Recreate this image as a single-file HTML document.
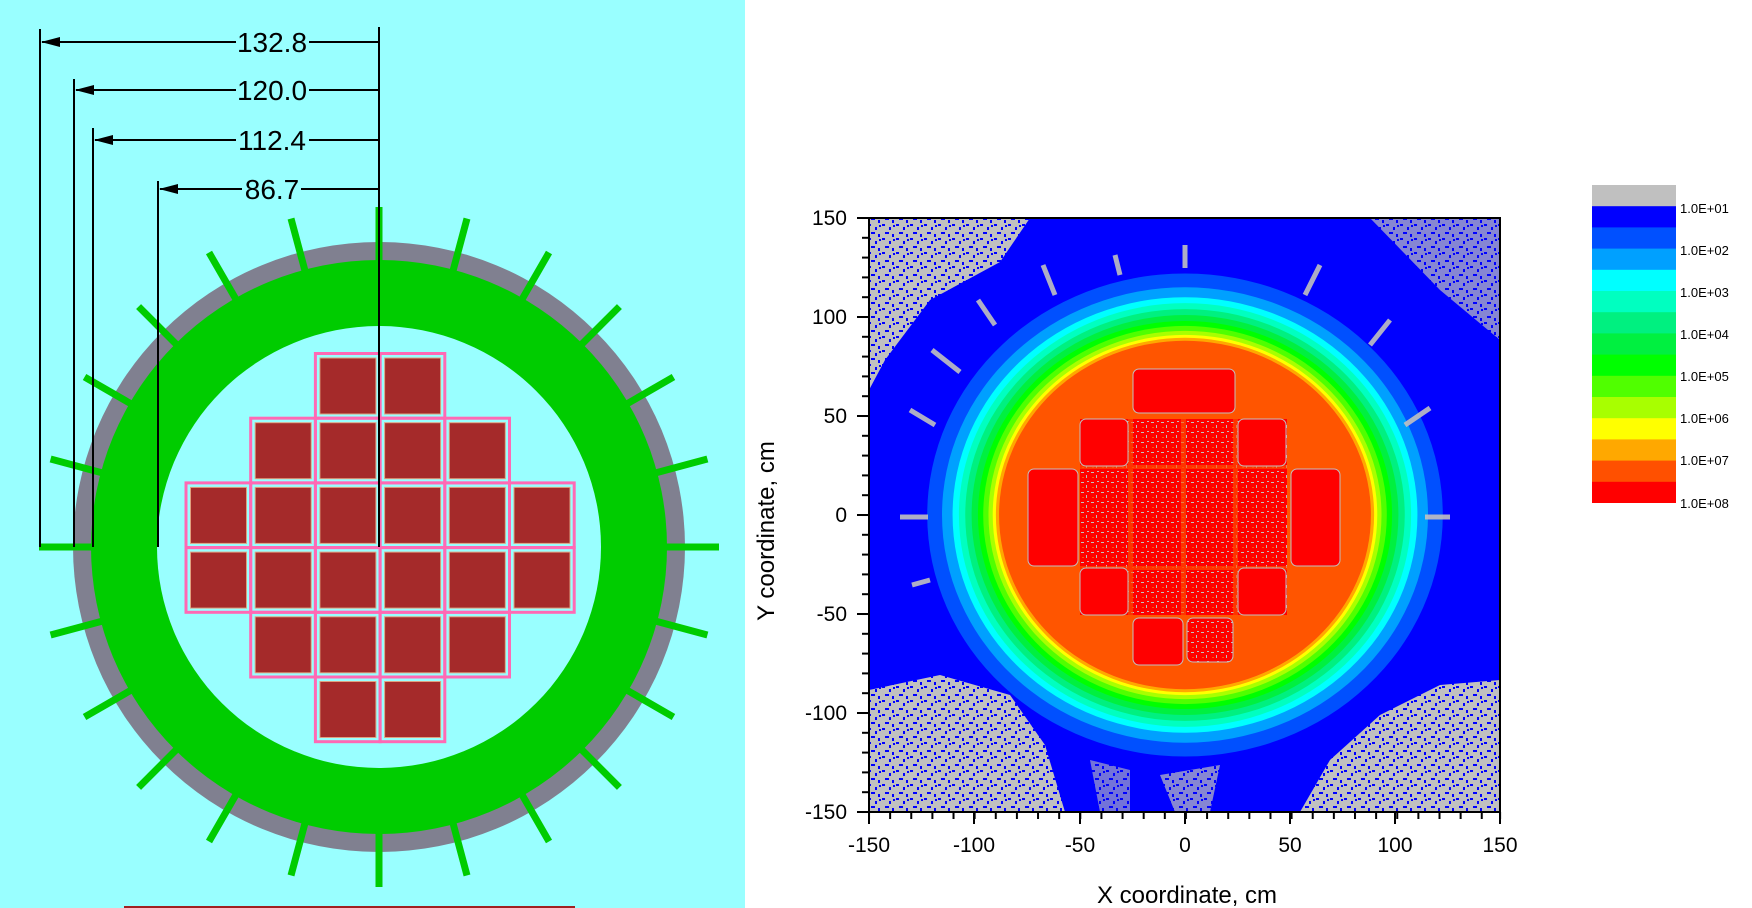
<!DOCTYPE html>
<html><head><meta charset="utf-8"><style>
html,body{margin:0;padding:0;background:#fff;}
svg{display:block;font-family:"Liberation Sans",sans-serif;}
</style></head><body>
<svg width="1752" height="908" viewBox="0 0 1752 908" xmlns="http://www.w3.org/2000/svg">
<defs>
<pattern id="spk" width="14" height="14" patternUnits="userSpaceOnUse">
<rect width="14" height="14" fill="#c0c0c0"/>
<rect x="0" y="0" width="3" height="2" fill="#0000ff"/>
<rect x="7" y="3" width="2" height="3" fill="#0000ff"/>
<rect x="3" y="8" width="4" height="2" fill="#0000ff"/>
<rect x="10" y="10" width="2" height="3" fill="#0000ff"/>
<rect x="11" y="1" width="2" height="2" fill="#0000ff"/>
</pattern>
<pattern id="rsp" width="10" height="10" patternUnits="userSpaceOnUse">
<rect width="10" height="10" fill="#ff0000"/>
<rect x="1" y="2" width="3" height="1" fill="#c0c0c0"/>
<rect x="6" y="5" width="1" height="3" fill="#c0c0c0"/>
<rect x="2" y="7" width="2" height="1" fill="#ff5500"/>
<rect x="7" y="1" width="2" height="1" fill="#c0c0c0"/>
</pattern>
<pattern id="ytk" x="0" y="217" width="7" height="19.8" patternUnits="userSpaceOnUse">
<rect x="0" y="0" width="7" height="2" fill="#000"/>
</pattern>
<pattern id="xtk" x="868" y="0" width="21.13" height="7" patternUnits="userSpaceOnUse">
<rect x="0" y="0" width="2" height="7" fill="#000"/>
</pattern>
<clipPath id="pc"><rect x="869" y="218" width="631" height="594"/></clipPath>
</defs>
<!-- LEFT PANEL -->
<rect x="0" y="0" width="745" height="908" fill="#99ffff"/>
<line x1="124" y1="907" x2="575" y2="907" stroke="#a02020" stroke-width="2"/>
<ellipse cx="379" cy="547" rx="306" ry="305" fill="#808090"/>
<ellipse cx="379" cy="547" rx="288" ry="287" fill="#00cc00"/>
<ellipse cx="379" cy="547" rx="222" ry="221" fill="#99ffff"/>
<g stroke="#00cc00" stroke-width="7">
<line x1="665" y1="547" x2="719" y2="547"/>
<line x1="665" y1="547" x2="719" y2="547" transform="rotate(15 379 547)"/>
<line x1="665" y1="547" x2="719" y2="547" transform="rotate(30 379 547)"/>
<line x1="665" y1="547" x2="719" y2="547" transform="rotate(45 379 547)"/>
<line x1="665" y1="547" x2="719" y2="547" transform="rotate(60 379 547)"/>
<line x1="665" y1="547" x2="719" y2="547" transform="rotate(75 379 547)"/>
<line x1="665" y1="547" x2="719" y2="547" transform="rotate(90 379 547)"/>
<line x1="665" y1="547" x2="719" y2="547" transform="rotate(105 379 547)"/>
<line x1="665" y1="547" x2="719" y2="547" transform="rotate(120 379 547)"/>
<line x1="665" y1="547" x2="719" y2="547" transform="rotate(135 379 547)"/>
<line x1="665" y1="547" x2="719" y2="547" transform="rotate(150 379 547)"/>
<line x1="665" y1="547" x2="719" y2="547" transform="rotate(165 379 547)"/>
<line x1="665" y1="547" x2="719" y2="547" transform="rotate(180 379 547)"/>
<line x1="665" y1="547" x2="719" y2="547" transform="rotate(195 379 547)"/>
<line x1="665" y1="547" x2="719" y2="547" transform="rotate(210 379 547)"/>
<line x1="665" y1="547" x2="719" y2="547" transform="rotate(225 379 547)"/>
<line x1="665" y1="547" x2="719" y2="547" transform="rotate(240 379 547)"/>
<line x1="665" y1="547" x2="719" y2="547" transform="rotate(255 379 547)"/>
<line x1="665" y1="547" x2="719" y2="547" transform="rotate(270 379 547)"/>
<line x1="665" y1="547" x2="719" y2="547" transform="rotate(285 379 547)"/>
<line x1="665" y1="547" x2="719" y2="547" transform="rotate(300 379 547)"/>
<line x1="665" y1="547" x2="719" y2="547" transform="rotate(315 379 547)"/>
<line x1="665" y1="547" x2="719" y2="547" transform="rotate(330 379 547)"/>
<line x1="665" y1="547" x2="719" y2="547" transform="rotate(345 379 547)"/>
</g>
<!-- assemblies: pink cells -->
<g fill="none" stroke="#ff69b4" stroke-width="3">
<rect x="315.4" y="353.5" width="64.7" height="64.7"/><rect x="380.1" y="353.5" width="64.7" height="64.7"/>
<rect x="250.7" y="418.2" width="64.7" height="64.7"/><rect x="315.4" y="418.2" width="64.7" height="64.7"/><rect x="380.1" y="418.2" width="64.7" height="64.7"/><rect x="444.8" y="418.2" width="64.7" height="64.7"/>
<rect x="186" y="482.9" width="64.7" height="64.7"/><rect x="250.7" y="482.9" width="64.7" height="64.7"/><rect x="315.4" y="482.9" width="64.7" height="64.7"/><rect x="380.1" y="482.9" width="64.7" height="64.7"/><rect x="444.8" y="482.9" width="64.7" height="64.7"/><rect x="509.5" y="482.9" width="64.7" height="64.7"/>
<rect x="186" y="547.6" width="64.7" height="64.7"/><rect x="250.7" y="547.6" width="64.7" height="64.7"/><rect x="315.4" y="547.6" width="64.7" height="64.7"/><rect x="380.1" y="547.6" width="64.7" height="64.7"/><rect x="444.8" y="547.6" width="64.7" height="64.7"/><rect x="509.5" y="547.6" width="64.7" height="64.7"/>
<rect x="250.7" y="612.3" width="64.7" height="64.7"/><rect x="315.4" y="612.3" width="64.7" height="64.7"/><rect x="380.1" y="612.3" width="64.7" height="64.7"/><rect x="444.8" y="612.3" width="64.7" height="64.7"/>
<rect x="315.4" y="677" width="64.7" height="64.7"/><rect x="380.1" y="677" width="64.7" height="64.7"/>
</g>
<g fill="#a52a2a" stroke="#e0a080" stroke-width="1">
<rect x="319.9" y="358" width="56" height="56"/><rect x="384.6" y="358" width="56" height="56"/>
<rect x="255.2" y="422.7" width="56" height="56"/><rect x="319.9" y="422.7" width="56" height="56"/><rect x="384.6" y="422.7" width="56" height="56"/><rect x="449.3" y="422.7" width="56" height="56"/>
<rect x="190.5" y="487.4" width="56" height="56"/><rect x="255.2" y="487.4" width="56" height="56"/><rect x="319.9" y="487.4" width="56" height="56"/><rect x="384.6" y="487.4" width="56" height="56"/><rect x="449.3" y="487.4" width="56" height="56"/><rect x="514" y="487.4" width="56" height="56"/>
<rect x="190.5" y="552.1" width="56" height="56"/><rect x="255.2" y="552.1" width="56" height="56"/><rect x="319.9" y="552.1" width="56" height="56"/><rect x="384.6" y="552.1" width="56" height="56"/><rect x="449.3" y="552.1" width="56" height="56"/><rect x="514" y="552.1" width="56" height="56"/>
<rect x="255.2" y="616.8" width="56" height="56"/><rect x="319.9" y="616.8" width="56" height="56"/><rect x="384.6" y="616.8" width="56" height="56"/><rect x="449.3" y="616.8" width="56" height="56"/>
<rect x="319.9" y="681.5" width="56" height="56"/><rect x="384.6" y="681.5" width="56" height="56"/>
</g>
<!-- dimension lines -->
<g stroke="#000" stroke-width="2" fill="none">
<line x1="379" y1="27" x2="379" y2="547"/>
<line x1="40" y1="29" x2="40" y2="547"/>
<line x1="74" y1="79" x2="74" y2="547"/>
<line x1="93" y1="128" x2="93" y2="547"/>
<line x1="158" y1="181" x2="158" y2="547"/>
<line x1="42" y1="42" x2="236" y2="42"/><line x1="309" y1="42" x2="379" y2="42"/>
<line x1="76" y1="90" x2="236" y2="90"/><line x1="309" y1="90" x2="379" y2="90"/>
<line x1="95" y1="140" x2="236" y2="140"/><line x1="309" y1="140" x2="379" y2="140"/>
<line x1="160" y1="189" x2="242" y2="189"/><line x1="301" y1="189" x2="379" y2="189"/>
</g>
<g fill="#000">
<polygon points="41,42 60,37 60,47"/>
<polygon points="75,90 94,85 94,95"/>
<polygon points="94,140 113,135 113,145"/>
<polygon points="159,189 178,184 178,194"/>
</g>
<g font-size="28" text-anchor="middle" fill="#000">
<text x="272" y="52">132.8</text>
<text x="272" y="100">120.0</text>
<text x="272" y="150">112.4</text>
<text x="272" y="199">86.7</text>
</g>
<!-- RIGHT PANEL -->
<g clip-path="url(#pc)">
<rect x="869" y="218" width="631" height="594" fill="#0000ff"/>
<polygon points="869,218 1030,218 1000,262 930,300 885,360 869,390" fill="url(#spk)"/>
<polygon points="1370,218 1500,218 1500,340 1440,290" fill="url(#spk)" opacity="0.7"/>
<polygon points="869,690 940,675 1010,695 1045,745 1065,812 869,812" fill="url(#spk)"/>
<polygon points="1500,680 1440,685 1380,715 1330,760 1300,812 1500,812" fill="url(#spk)"/>
<polygon points="1160,775 1175,812 1210,812 1220,765" fill="url(#spk)" opacity="0.7"/>
<polygon points="1090,760 1100,812 1130,812 1130,770" fill="url(#spk)" opacity="0.6"/>
<g transform="translate(1185,515) scale(2.113,1.98)">
<circle r="122" fill="#0050ff"/>
<circle r="115" fill="#00a0ff"/>
<circle r="110" fill="#00ffff"/>
<circle r="107" fill="#00ffc0"/>
<circle r="104" fill="#00f080"/>
<circle r="101" fill="#00f040"/>
<circle r="98" fill="#00ff00"/>
<circle r="95.5" fill="#50ff00"/>
<circle r="93" fill="#a8ff00"/>
<circle r="91" fill="#ffff00"/>
<circle r="89.5" fill="#ffa800"/>
<circle r="88" fill="#ff5500"/>
</g>
<g stroke="#c0c0c0" stroke-width="5" fill="none" opacity="0.9">
<line x1="1115" y1="255" x2="1120" y2="275"/><line x1="1185" y1="245" x2="1185" y2="268"/>
<line x1="1043" y1="265" x2="1055" y2="295"/><line x1="978" y1="300" x2="995" y2="325"/>
<line x1="932" y1="350" x2="960" y2="372"/><line x1="910" y1="410" x2="935" y2="425"/>
<line x1="900" y1="517" x2="928" y2="517"/><line x1="912" y1="585" x2="930" y2="580"/>
<line x1="1320" y1="265" x2="1305" y2="295"/><line x1="1390" y1="320" x2="1370" y2="345"/>
<line x1="1430" y1="408" x2="1405" y2="425"/><line x1="1450" y1="517" x2="1425" y2="517"/>
</g>
<rect x="1133" y="369" width="102" height="44" rx="6" fill="#ff0000" stroke="#c0c0c0" stroke-width="1"/>
<rect x="1080" y="419" width="207" height="196" fill="url(#rsp)"/>
<g fill="#ff5500" opacity="0.6">
<rect x="1128" y="419" width="5" height="196"/><rect x="1181" y="419" width="5" height="196"/><rect x="1233" y="419" width="5" height="196"/>
<rect x="1080" y="465" width="207" height="4"/><rect x="1080" y="566" width="207" height="4"/>
</g>
<g fill="#ff0000" stroke="#c0c0c0" stroke-width="1">
<rect x="1080" y="419" width="48" height="47" rx="6"/>
<rect x="1238" y="419" width="48" height="47" rx="6"/>
<rect x="1028" y="469" width="50" height="97" rx="6"/>
<rect x="1291" y="469" width="49" height="97" rx="6"/>
<rect x="1080" y="568" width="48" height="47" rx="6"/>
<rect x="1238" y="568" width="48" height="47" rx="6"/>
<rect x="1133" y="618" width="50" height="47" rx="6"/>
</g>
<rect x="1187" y="618" width="46" height="44" rx="6" fill="url(#rsp)" stroke="#c0c0c0"/>
</g>
<rect x="869" y="218" width="631" height="594" fill="none" stroke="#000" stroke-width="2"/>
<!-- ticks -->
<rect x="862" y="217" width="7" height="597" fill="url(#ytk)"/>
<rect x="868" y="812" width="634" height="7" fill="url(#xtk)"/>
<g stroke="#000" stroke-width="2">
<line x1="857" y1="218" x2="869" y2="218"/><line x1="857" y1="317" x2="869" y2="317"/><line x1="857" y1="416" x2="869" y2="416"/>
<line x1="857" y1="515" x2="869" y2="515"/><line x1="857" y1="614" x2="869" y2="614"/><line x1="857" y1="713" x2="869" y2="713"/><line x1="857" y1="812" x2="869" y2="812"/>
<line x1="869" y1="812" x2="869" y2="824"/><line x1="974" y1="812" x2="974" y2="824"/><line x1="1080" y1="812" x2="1080" y2="824"/>
<line x1="1185" y1="812" x2="1185" y2="824"/><line x1="1290" y1="812" x2="1290" y2="824"/><line x1="1395" y1="812" x2="1395" y2="824"/><line x1="1500" y1="812" x2="1500" y2="824"/>
</g>
<g font-size="21" fill="#000" text-anchor="end">
<text x="847" y="225">150</text><text x="847" y="324">100</text><text x="847" y="423">50</text>
<text x="847" y="522">0</text><text x="847" y="621">-50</text><text x="847" y="720">-100</text><text x="847" y="819">-150</text>
</g>
<g font-size="21" fill="#000" text-anchor="middle">
<text x="869" y="852">-150</text><text x="974" y="852">-100</text><text x="1080" y="852">-50</text>
<text x="1185" y="852">0</text><text x="1290" y="852">50</text><text x="1395" y="852">100</text><text x="1500" y="852">150</text>
</g>
<text x="1187" y="903" font-size="24" text-anchor="middle">X coordinate, cm</text>
<text transform="translate(774,531) rotate(-90)" font-size="24" text-anchor="middle">Y coordinate, cm</text>
<!-- colorbar -->
<rect x="1592" y="185" width="84" height="22" fill="#c0c0c0"/>
<rect x="1592" y="206.2" width="84" height="22" fill="#0000ff"/>
<rect x="1592" y="227.4" width="84" height="22" fill="#0050ff"/>
<rect x="1592" y="248.6" width="84" height="22" fill="#00a0ff"/>
<rect x="1592" y="269.8" width="84" height="22" fill="#00ffff"/>
<rect x="1592" y="291" width="84" height="22" fill="#00ffc0"/>
<rect x="1592" y="312.2" width="84" height="22" fill="#00f080"/>
<rect x="1592" y="333.4" width="84" height="22" fill="#00f040"/>
<rect x="1592" y="354.6" width="84" height="22" fill="#00ff00"/>
<rect x="1592" y="375.8" width="84" height="22" fill="#50ff00"/>
<rect x="1592" y="397" width="84" height="22" fill="#a8ff00"/>
<rect x="1592" y="418.2" width="84" height="22" fill="#ffff00"/>
<rect x="1592" y="439.4" width="84" height="22" fill="#ffa800"/>
<rect x="1592" y="460.6" width="84" height="22" fill="#ff5000"/>
<rect x="1592" y="481.8" width="84" height="21.2" fill="#ff0000"/>
<g font-size="13" fill="#000">
<text x="1680" y="213">1.0E+01</text><text x="1680" y="255">1.0E+02</text><text x="1680" y="297">1.0E+03</text>
<text x="1680" y="339">1.0E+04</text><text x="1680" y="381">1.0E+05</text><text x="1680" y="423">1.0E+06</text>
<text x="1680" y="465">1.0E+07</text><text x="1680" y="508">1.0E+08</text>
</g>
</svg>
</body></html>
